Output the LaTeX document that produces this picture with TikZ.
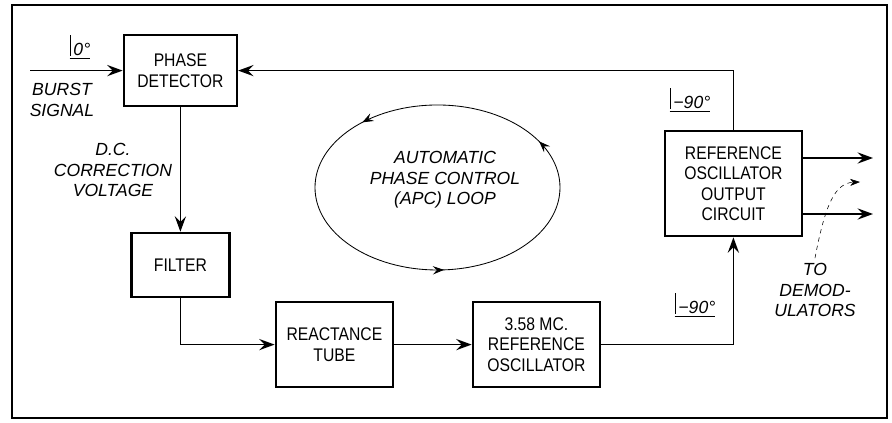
\documentclass[tikz,border=0pt]{standalone}
\usepackage{fontspec}
\setmainfont[FakeStretch=0.86]{Liberation Sans}
\newfontfamily\labelfont{Liberation Sans}
\usetikzlibrary{positioning,arrows.meta,decorations.markings}
\newcommand{\angmark}[1]{\underline{\vrule width 0.6pt height 2.2ex depth 0pt\,#1}}

\begin{document}
\begin{tikzpicture}[->,>={Stealth[length=11pt,width=8pt,inset=4pt]},line width=0.9pt,on grid,auto,
  block/.style={draw,line width=1.8pt,align=center,inner sep=0pt,font=\fontsize{13}{14.5}\selectfont},
  lbl/.style={align=center,font=\labelfont\fontsize{12.5}{14.5}\selectfont\itshape}]
\useasboundingbox (0,0) rectangle (22.3,10.575);
\draw[-,line width=2pt] (0.3,0.125) rectangle (22.175,10.45);

\node[block,minimum width=2.825cm,minimum height=1.775cm] (pd) at (4.51,8.81) {PHASE\\DETECTOR};
\node[block,minimum width=2.45cm,minimum height=1.6cm] (filter) [below=4.86cm of pd] {FILTER};
\node[block,minimum width=2.925cm,minimum height=2.125cm] (rt) [below right=1.99cm and 3.85cm of filter] {REACTANCE\\TUBE};
\node[block,minimum width=3.175cm,minimum height=2.125cm] (osc) [right=5.05cm of rt] {3.58 MC.\\REFERENCE\\OSCILLATOR};
\node[block,minimum width=3.425cm,minimum height=2.625cm] (rooc) [above right=4.025cm and 4.925cm of osc] {REFERENCE\\OSCILLATOR\\OUTPUT\\CIRCUIT};

% labels
\node[lbl] (burstlbl) at (1.55,8.08) {BURST\\SIGNAL};
\node[lbl] (ang0) at (2.0,9.4) {\angmark{0°}};
\node[lbl] (dclbl) at (2.825,6.325) {D.C.\\CORRECTION\\VOLTAGE};
\node[lbl] (angtop) at (17.25,8.075) {\angmark{−90°}};
\node[lbl] (angbot) at (17.375,2.95) {\angmark{−90°}};
\node[lbl] (todemod) at (20.375,3.325) {TO\\DEMOD-\\ULATORS};
\node[lbl] (apc) at (11.125,6.075) {AUTOMATIC\\PHASE CONTROL\\(APC) LOOP};

\coordinate (burst) at (0.75,8.81);
\coordinate (outa) at (21.825,6.625);
\coordinate (outb) at (21.825,5.225);
\coordinate (dmtip) at (21.5,6.025);

\draw (burst) -- (pd);
\draw (pd) -- (filter);
\draw (filter.south) |- (rt.west);
\draw (rt) -- (osc);
\draw (osc.east) -| (rooc.south);
\draw (rooc.north) |- (pd.east);
\draw (rooc.east |- outa) -- (outa);
\draw (rooc.east |- outb) -- (outb);
\draw[line width=0.4pt,dashed,>={Stealth[length=7pt,width=5pt,inset=2pt]}] (todemod.north) .. controls (20.625,5.45) and (20.875,6.0) .. (dmtip);

% loop
\draw[-,line width=0.6pt,postaction={decorate},decoration={markings,
  mark=at position 0.08 with {\arrow{Stealth[length=8pt,width=6pt,inset=3pt]}},
  mark=at position 0.37 with {\arrow{Stealth[length=8pt,width=6pt,inset=3pt]}},
  mark=at position 0.76 with {\arrow{Stealth[length=8pt,width=6pt,inset=3pt]}}}]
  (10.9375,5.8875) ellipse (3.0625cm and 2.0625cm);
\end{tikzpicture}
\end{document}
